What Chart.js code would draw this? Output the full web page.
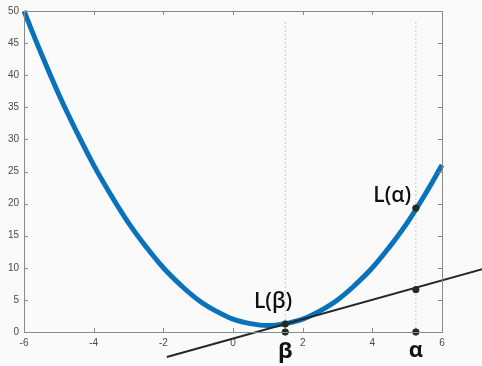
<!DOCTYPE html>
<html>
<head>
<meta charset="utf-8">
<script src="https://cdn.jsdelivr.net/npm/chart.js@4/dist/chart.umd.min.js"></script>
<style>
  html, body { margin: 0; padding: 0; background: #fafafa; }
  #wrap { width: 482px; height: 366px; position: relative; }
</style>
</head>
<body>
<div id="wrap"><canvas id="myChart" width="482" height="366"></canvas></div>
<script>
// values
const curveX = [-6, -5.5, -5, -4.5, -4, -3.5, -3, -2.5, -2, -1.5, -1, -0.5, 0, 0.5, 1, 1.5, 2, 2.5, 3, 3.5, 4, 4.5, 5, 5.5, 6]
const curveY = [50, 43.3, 37, 31.3, 26, 21.3, 17, 13.3, 10, 7.3, 5, 3.3, 2, 1.3, 1, 1.3, 2, 3.3, 5, 7.3, 10, 13.3, 17, 21.3, 26]

const tangentX = [-1.9, 7.5]
const tangentY = [-3.9, 10.3]

const beta = 1.5
const alpha = 5.25
const markerX = [beta, beta, alpha, alpha, alpha]
const markerY = [0, 1.25, 0, 6.6, 19.3]
const guideTop = 48.6

const xTicks = [-6, -4, -2, 0, 2, 4, 6]
const yTicks = [0, 5, 10, 15, 20, 25, 30, 35, 40, 45, 50]

const textLabels = [
  { text: "L(β)", x: 1.15, y: 4.6, font: "600 21px 'Open Sans'" },
  { text: "L(α)", x: 4.57, y: 21.2, font: "600 21px 'Open Sans'" },
  { text: "β", x: beta, y: -3.1, font: "bold 22px 'Open Sans'" },
  { text: "α", x: alpha, y: -2.9, font: "bold 22px 'Open Sans'" },
]

const colors = {
  blue: "#0a72ba",
  dark: "#1f2b28",
  guide: "#cdcdaa",
  axis: "#8a8a8a",
  tick: "#4a4a4a"
}

const zip = (xs, ys) => xs.map((x, i) => ({ x: x, y: ys[i] }))

// box + inward ticks, MATLAB style
const boxPlugin = {
  id: "box",
  afterDatasetsDraw(chart) {
    const { ctx, chartArea: a, scales } = chart
    ctx.save()
    ctx.strokeStyle = colors.axis
    ctx.lineWidth = 1
    ctx.strokeRect(a.left + 0.5, a.top + 0.5, a.right - a.left, a.bottom - a.top)
    ctx.beginPath()
    xTicks.forEach(v => {
      const px = Math.round(scales.x.getPixelForValue(v)) + 0.5
      ctx.moveTo(px, a.bottom); ctx.lineTo(px, a.bottom - 4)
      ctx.moveTo(px, a.top); ctx.lineTo(px, a.top + 4)
    })
    yTicks.forEach(v => {
      const py = Math.round(scales.y.getPixelForValue(v)) + 0.5
      ctx.moveTo(a.left, py); ctx.lineTo(a.left + 4, py)
      ctx.moveTo(a.right, py); ctx.lineTo(a.right - 4, py)
    })
    ctx.stroke()
    ctx.restore()
  },
  afterDraw(chart) {
    const { ctx, scales } = chart
    ctx.save()
    ctx.fillStyle = "#111"
    ctx.textAlign = "center"
    ctx.textBaseline = "middle"
    textLabels.forEach(l => {
      ctx.font = l.font
      ctx.fillText(l.text, scales.x.getPixelForValue(l.x), scales.y.getPixelForValue(l.y))
    })
    ctx.restore()
  }
}

const ctx = document.getElementById("myChart").getContext("2d")

// lower order is drawn on top
const data = {
  datasets: [
    {
      label: "guide β",
      data: zip([beta, beta], [0, guideTop]),
      borderColor: colors.guide,
      borderWidth: 1,
      borderDash: [2, 2],
      pointRadius: 0,
      order: 4
    },
    {
      label: "guide α",
      data: zip([alpha, alpha], [0, guideTop]),
      borderColor: colors.guide,
      borderWidth: 1,
      borderDash: [2, 2],
      pointRadius: 0,
      order: 4
    },
    {
      label: "L",
      data: zip(curveX, curveY),
      borderColor: colors.blue,
      borderWidth: 5,
      tension: 0.4,
      pointRadius: 0,
      clip: false,
      order: 3
    },
    {
      label: "tangent",
      data: zip(tangentX, tangentY),
      borderColor: colors.dark,
      borderWidth: 2,
      pointRadius: 0,
      clip: false,
      order: 2
    },
    {
      label: "points",
      data: zip(markerX, markerY),
      showLine: false,
      backgroundColor: colors.dark,
      borderColor: colors.dark,
      pointRadius: 3.2,
      pointBackgroundColor: colors.dark,
      pointBorderColor: colors.dark,
      pointBorderWidth: 1,
      clip: false,
      order: 1
    }
  ]
}

const config = {
  type: "line",
  data: data,
  options: {
    responsive: false,
    animation: false,
    devicePixelRatio: 1,
    layout: { padding: { top: 10, right: 40, left: 0, bottom: 0 } },
    plugins: { legend: { display: false }, tooltip: { enabled: false } },
    scales: {
      x: {
        type: "linear",
        min: -6,
        max: 6,
        afterFit: s => { s.height = 34 },
        afterBuildTicks: s => { s.ticks = xTicks.map(v => ({ value: v })) },
        grid: { display: false, drawTicks: false },
        border: { display: false },
        ticks: { color: colors.tick, font: { family: "'Liberation Sans'", size: 10 }, padding: 5, maxRotation: 0 }
      },
      y: {
        type: "linear",
        min: 0,
        max: 50,
        afterFit: s => { s.width = 24 },
        afterBuildTicks: s => { s.ticks = yTicks.map(v => ({ value: v })) },
        grid: { display: false, drawTicks: false },
        border: { display: false },
        ticks: { color: colors.tick, font: { family: "'Liberation Sans'", size: 10 }, padding: 5 }
      }
    }
  },
  plugins: [boxPlugin]
}

const myChart = new Chart(ctx, config)
</script>
</body>
</html>
